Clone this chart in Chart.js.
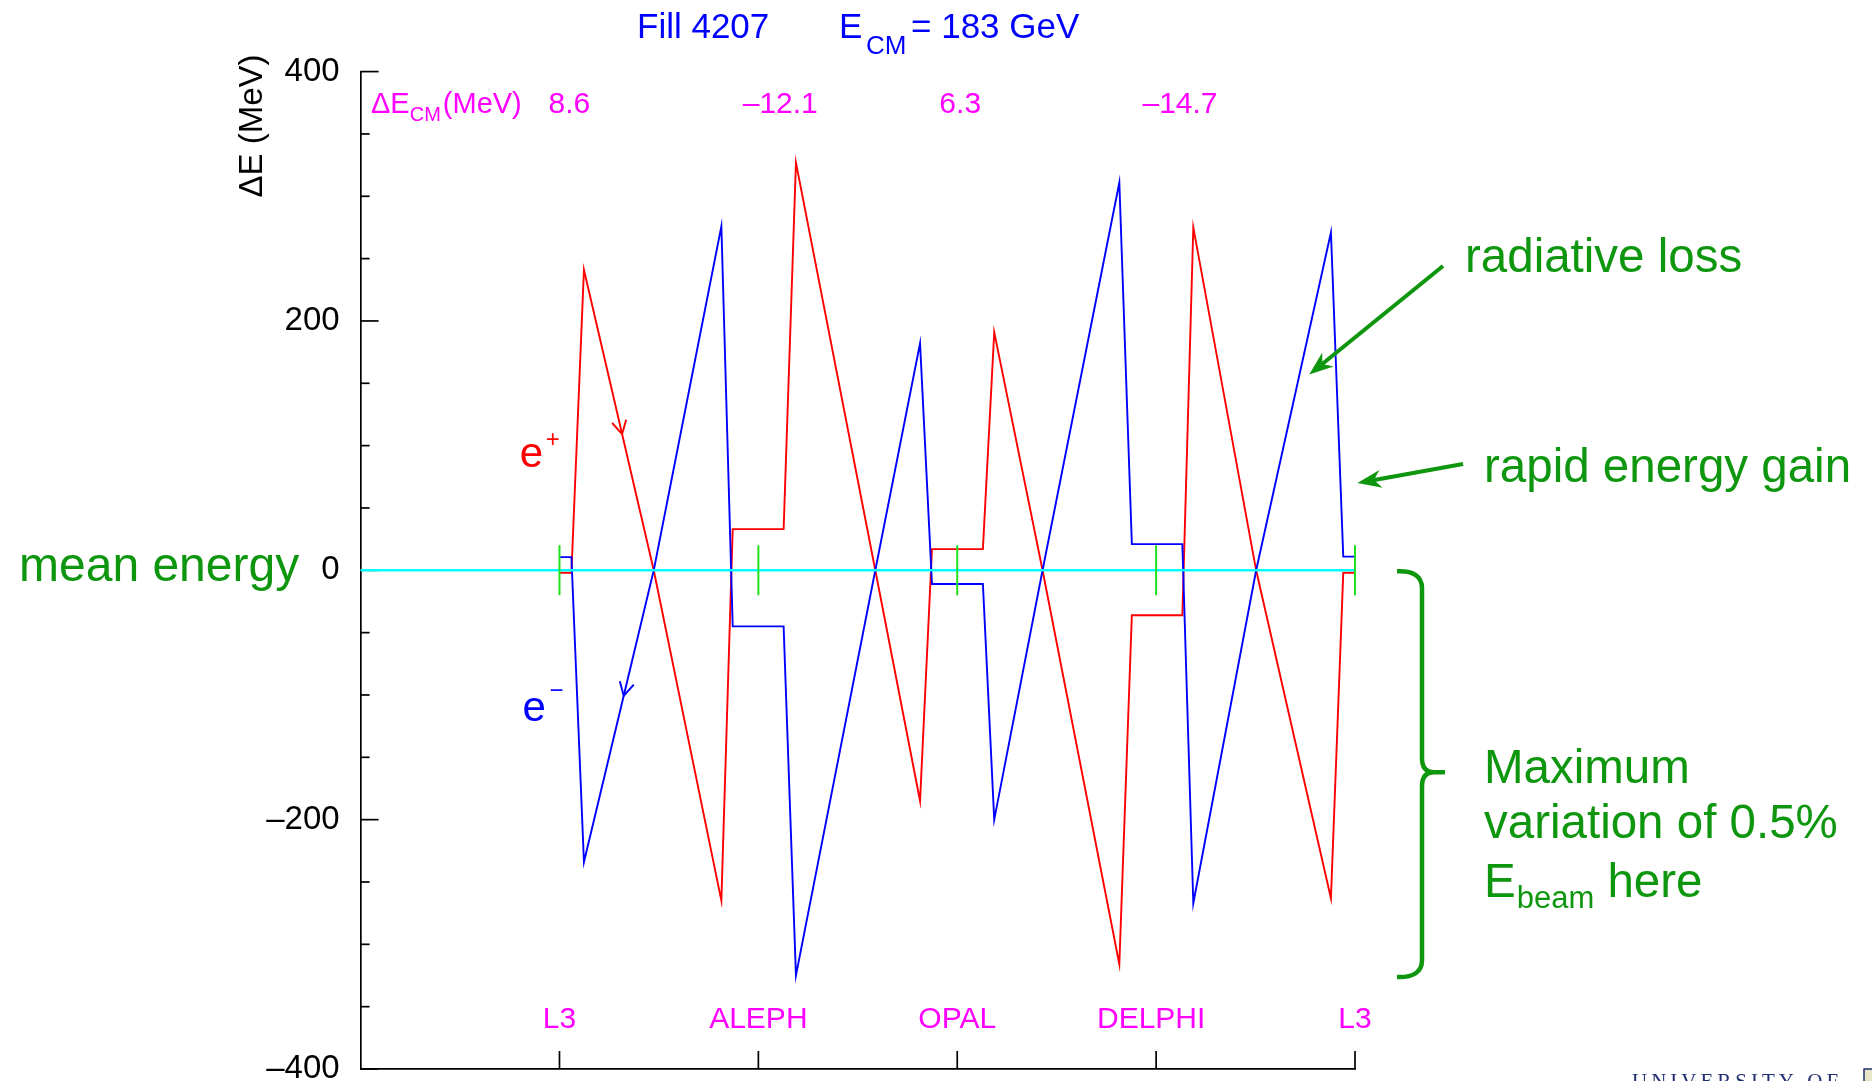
<!DOCTYPE html>
<html>
<head>
<meta charset="utf-8">
<script src="https://cdn.jsdelivr.net/npm/chart.js@4.4.1/dist/chart.umd.min.js"></script>
<style>
html, body { margin: 0; padding: 0; background: #fff; }
#wrap { width: 1872px; height: 1081px; position: relative; }
</style>
</head>
<body>
<div id="wrap"><canvas id="energyChart"></canvas></div>
<script>
// position around the ring: 0 = L3, 1 = ALEPH, 2 = OPAL, 3 = DELPHI, 4 = L3 again
const ringPos = [0, 0.060, 0.123, 0.474, 0.814, 0.871, 1.127, 1.189, 1.588, 1.813, 1.873,
  2.129, 2.186, 2.429, 2.815, 2.878, 3.132, 3.187, 3.503, 3.879, 3.941, 4];
// energy offset of the beams (MeV)
const ePositron = [-2, -2, 241, 0, -265, 33, 33, 327, 0, -185, 17, 17, 191, 0, -316, -36, -36, 275, 0, -263, -2, -2];
const eElectron = [10.6, 10.6, -234, 0, 276, -45, -45, -325, 0, 182, -11, -11, -200, 0, 311, 21, 21, -267, 0, 271, 11, 11];
const meanEnergy = 0;
const ipPos = [0, 1, 2, 3, 4];
const ipNames = ['L3', 'ALEPH', 'OPAL', 'DELPHI', 'L3'];
const dEcmValues = ['8.6', '\u201312.1', '6.3', '\u201314.7'];
const yLabelValues = [-400, -200, 0, 200, 400];

const FONT = '"Liberation Sans", Arial, Helvetica, sans-serif';
const GREEN = '#0e960e';
const MAGENTA = '#ff00ff';

const ipMarks = ipPos.flatMap(p => [{x: p, y: -20}, {x: p, y: 20}, {x: p, y: null}]);

function runs(ctx, x, y, parts, color) {
  // parts: [text, size, dy, gap]
  ctx.fillStyle = color;
  ctx.textAlign = 'left';
  ctx.textBaseline = 'alphabetic';
  parts.forEach(p => {
    ctx.font = p[1] + 'px ' + FONT;
    ctx.fillText(p[0], x, y + (p[2] || 0));
    x += ctx.measureText(p[0]).width + (p[3] || 0);
  });
}

function greenArrow(ctx, x1, y1, x2, y2) {
  const a = Math.atan2(y2 - y1, x2 - x1);
  const L = 24, W = 9;
  ctx.strokeStyle = GREEN;
  ctx.fillStyle = GREEN;
  ctx.lineWidth = 4;
  ctx.beginPath();
  ctx.moveTo(x1, y1);
  ctx.lineTo(x2 - Math.cos(a) * L * 0.6, y2 - Math.sin(a) * L * 0.6);
  ctx.stroke();
  ctx.save();
  ctx.translate(x2, y2);
  ctx.rotate(a);
  ctx.beginPath();
  ctx.moveTo(0, 0);
  ctx.lineTo(-L, -W);
  ctx.lineTo(-L * 0.7, 0);
  ctx.lineTo(-L, W);
  ctx.closePath();
  ctx.fill();
  ctx.restore();
}

function lineArrow(ctx, xs, ys, vals, i, frac, reverse, color) {
  const xa = ringPos[i] + (ringPos[i + 1] - ringPos[i]) * frac;
  const ya = vals[i] + (vals[i + 1] - vals[i]) * frac;
  const px = xs.getPixelForValue(xa), py = ys.getPixelForValue(ya);
  let dx = xs.getPixelForValue(ringPos[i + 1]) - xs.getPixelForValue(ringPos[i]);
  let dy = ys.getPixelForValue(vals[i + 1]) - ys.getPixelForValue(vals[i]);
  if (reverse) { dx = -dx; dy = -dy; }
  const a = Math.atan2(dy, dx);
  const L = 15, h = 0.5;
  ctx.strokeStyle = color;
  ctx.lineWidth = 1.9;
  ctx.beginPath();
  ctx.moveTo(px - L * Math.cos(a - h), py - L * Math.sin(a - h));
  ctx.lineTo(px, py);
  ctx.lineTo(px - L * Math.cos(a + h), py - L * Math.sin(a + h));
  ctx.stroke();
}

const decor = {
  id: 'decor',
  beforeDatasetsDraw(chart) {
    const ctx = chart.ctx, xs = chart.scales.x, ys = chart.scales.y;
    const a = chart.chartArea;
    ctx.save();
    ctx.strokeStyle = '#000';
    ctx.lineWidth = 1.7;
    ys.ticks.forEach(t => {
      const py = ys.getPixelForValue(t.value);
      const len = yLabelValues.includes(t.value) ? 18 : 9;
      ctx.beginPath();
      ctx.moveTo(a.left, py);
      ctx.lineTo(a.left + len, py);
      ctx.stroke();
    });
    ipPos.forEach(p => {
      const px = xs.getPixelForValue(p);
      ctx.beginPath();
      ctx.moveTo(px, a.bottom);
      ctx.lineTo(px, a.bottom - 18);
      ctx.stroke();
    });
    ctx.restore();
  },
  afterDraw(chart) {
    const ctx = chart.ctx, xs = chart.scales.x, ys = chart.scales.y;
    ctx.save();

    // title
    runs(ctx, 637, 38, [['Fill 4207', 35]], '#0000ff');
    runs(ctx, 839, 38, [['E', 35, 0, 5]], '#0000ff');
    runs(ctx, 866, 54, [['CM', 26, 0, 3]], '#0000ff');
    runs(ctx, 911, 38, [['= 183 GeV', 35]], '#0000ff');

    // y axis title
    ctx.save();
    ctx.translate(262, 126);
    ctx.rotate(-Math.PI / 2);
    ctx.fillStyle = '#000';
    ctx.font = '33px ' + FONT;
    ctx.textAlign = 'center';
    ctx.textBaseline = 'alphabetic';
    ctx.fillText('\u0394E (MeV)', 0, 0);
    ctx.restore();

    // delta E_CM row
    runs(ctx, 371, 113, [['\u0394E', 29], ['CM', 20, 8, 2], ['(MeV)', 29]], MAGENTA);
    const dOff = [0.05, 0.11, 0.015, 0.12];
    ctx.font = '30px ' + FONT;
    ctx.textAlign = 'center';
    ctx.fillStyle = MAGENTA;
    dEcmValues.forEach((v, i) => {
      ctx.fillText(v, xs.getPixelForValue(ipPos[i] + dOff[i]), 113);
    });

    // interaction point names
    const nOff = [0, 0, 0, -0.025, 0];
    ctx.font = '30px ' + FONT;
    ipNames.forEach((n, i) => {
      ctx.fillText(n, xs.getPixelForValue(ipPos[i] + nOff[i]), ys.getPixelForValue(-367));
    });

    // beam labels
    runs(ctx, xs.getPixelForValue(-0.2), ys.getPixelForValue(83), [['e', 42]], '#ff0000');
    runs(ctx, xs.getPixelForValue(-0.2) + 26, ys.getPixelForValue(83) - 20, [['+', 24]], '#ff0000');
    runs(ctx, xs.getPixelForValue(-0.186), ys.getPixelForValue(-121), [['e', 42]], '#0000ff');
    runs(ctx, xs.getPixelForValue(-0.186) + 27, ys.getPixelForValue(-121) - 23, [['\u2212', 24]], '#0000ff');

    // direction arrows on the beams
    lineArrow(ctx, xs, ys, ePositron, 2, 0.547, false, '#ff0000');
    lineArrow(ctx, xs, ys, eElectron, 2, 0.57, true, '#0000ff');

    // green annotations
    runs(ctx, 19, 581, [['mean energy', 48]], GREEN);
    runs(ctx, 1465, 272, [['radiative loss', 47.5]], GREEN);
    runs(ctx, 1484, 482, [['rapid energy gain', 47.5]], GREEN);
    runs(ctx, 1484, 783, [['Maximum', 47.5]], GREEN);
    runs(ctx, 1484, 838, [['variation of 0.5%', 47.5]], GREEN);
    runs(ctx, 1484, 897, [['E', 47.5, 0, 1], ['beam', 31, 11, 0], [' here', 47.5]], GREEN);

    greenArrow(ctx, 1443, 266, xs.getPixelForValue(3.77), ys.getPixelForValue(157));
    greenArrow(ctx, 1463, 464, xs.getPixelForValue(4.012), ys.getPixelForValue(70));

    // curly bracket
    const top = ys.getPixelForValue(0), bot = ys.getPixelForValue(-327);
    const mid = (top + bot) / 2 - 2;
    const bx = 1422, lx = 1397, tx = 1445;
    ctx.strokeStyle = GREEN;
    ctx.lineWidth = 4.5;
    ctx.lineJoin = 'round';
    ctx.beginPath();
    ctx.moveTo(lx, top + 1);
    ctx.quadraticCurveTo(bx, top, bx, top + 18);
    ctx.lineTo(bx, mid - 14);
    ctx.quadraticCurveTo(bx, mid, bx + 12, mid);
    ctx.lineTo(tx, mid);
    ctx.moveTo(bx + 12, mid);
    ctx.quadraticCurveTo(bx, mid, bx, mid + 14);
    ctx.lineTo(bx, bot - 18);
    ctx.quadraticCurveTo(bx, bot, lx, bot - 1);
    ctx.stroke();

    // logo fragment
    ctx.fillStyle = '#1f2f6f';
    ctx.font = '21px "Liberation Serif", "DejaVu Serif", serif';
    ctx.textAlign = 'left';
    if ('letterSpacing' in ctx) ctx.letterSpacing = '4px';
    ctx.fillText('UNIVERSITY OF', 1632, 1088);
    if ('letterSpacing' in ctx) ctx.letterSpacing = '0px';
    ctx.strokeStyle = '#1f2f6f';
    ctx.lineWidth = 1.5;
    ctx.fillStyle = '#e8e6c8';
    ctx.fillRect(1864, 1069, 8, 12);
    ctx.strokeRect(1864, 1069, 10, 14);

    ctx.restore();
  }
};

const ctxE = document.getElementById('energyChart').getContext('2d');
const energyChart = new Chart(ctxE, {
  type: 'line',
  data: {
    datasets: [
      {
        label: 'IP',
        data: ipMarks,
        borderColor: '#1ee11e',
        borderWidth: 2,
        pointRadius: 0,
        spanGaps: false,
        clip: false
      },
      {
        label: 'mean energy',
        data: [{x: -1, y: meanEnergy}, {x: 4, y: meanEnergy}],
        borderColor: '#00ffff',
        borderWidth: 2.4,
        pointRadius: 0,
        clip: false
      },
      {
        label: 'e-',
        data: ringPos.map((x, i) => ({x: x, y: eElectron[i]})),
        borderColor: '#0000ff',
        borderWidth: 1.9,
        pointRadius: 0,
        clip: false
      },
      {
        label: 'e+',
        data: ringPos.map((x, i) => ({x: x, y: ePositron[i]})),
        borderColor: '#ff0000',
        borderWidth: 1.9,
        pointRadius: 0,
        clip: false
      }
    ]
  },
  options: {
    responsive: true,
    maintainAspectRatio: false,
    animation: false,
    events: [],
    layout: { padding: { left: 0, top: 71.6, right: 517, bottom: 0 } },
    plugins: {
      legend: { display: false },
      tooltip: { enabled: false }
    },
    scales: {
      x: {
        type: 'linear',
        min: -1,
        max: 4,
        afterFit(s) { s.height = 12; s.paddingLeft = 0; s.paddingRight = 0; },
        ticks: { display: false },
        grid: { display: false, drawTicks: false },
        border: { display: true, color: '#000', width: 1.7 }
      },
      y: {
        type: 'linear',
        min: -400,
        max: 400,
        afterFit(s) { s.width = 360.6; s.paddingTop = 0; s.paddingBottom = 0; },
        ticks: {
          stepSize: 50,
          autoSkip: false,
          padding: 21,
          color: '#000',
          font: { size: 33, family: FONT },
          callback: v => yLabelValues.includes(v) ? (v < 0 ? '\u2013' + Math.abs(v) : String(v)) : ''
        },
        grid: { display: false, drawTicks: false },
        border: { display: true, color: '#000', width: 1.7 }
      }
    }
  },
  plugins: [decor]
});
</script>
</body>
</html>
